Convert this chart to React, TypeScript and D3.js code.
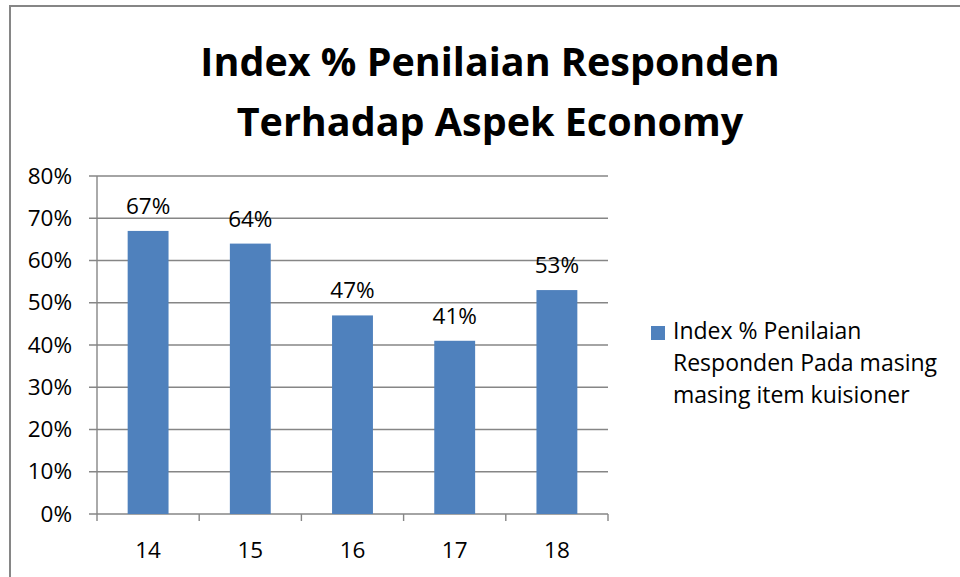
import React from "react";
import * as d3 from "d3";

const categories = ["14", "15", "16", "17", "18"];
const values = [0.67, 0.64, 0.47, 0.41, 0.53];
const yTicks = [0, 0.1, 0.2, 0.3, 0.4, 0.5, 0.6, 0.7, 0.8];
const titleLines = ["Index % Penilaian Responden", "Terhadap Aspek Economy"];
const legendLines = ["Index % Penilaian", "Responden Pada masing", "masing item kuisioner"];

const font = "'Open Sans', 'Noto Sans', sans-serif";
const barColor = "#4F81BD";
const gridColor = "#868686";

export default function App() {
  const plot = { left: 97, right: 608, top: 176, bottom: 514 };

  // bars sit in the middle 40% of each category band
  const x = d3.scaleBand().domain(categories).range([plot.left, plot.right]).paddingInner(0.6).paddingOuter(0.3);
  const xOuter = d3.scaleBand().domain(categories).range([plot.left, plot.right]);
  const y = d3.scaleLinear().domain([0, 0.8]).range([plot.bottom, plot.top]);
  const fmt = d3.format(".0%");

  return (
    <svg width={960} height={577} style={{ position: "absolute", left: 0, top: 0 }}>
      <rect x={0} y={0} width={960} height={577} fill="#fff" />
      {/* chart border, only top & left visible */}
      <path d="M10,600 V6 H1000" fill="none" stroke={gridColor} strokeWidth={2} />

      {titleLines.map((t, i) => (
        <text key={t} x={490} y={76 + i * 60} textAnchor="middle" fontFamily={font} fontWeight="bold" fontSize={39.5} fill="#000">
          {t}
        </text>
      ))}

      {yTicks.map((t) => (
        <g key={t}>
          <line x1={plot.left - 8} x2={plot.right} y1={y(t)} y2={y(t)} stroke={gridColor} strokeWidth={1.4} />
          <text x={72} y={y(t) + 7.5} textAnchor="end" fontFamily={font} fontSize={22.5} fill="#000">
            {fmt(t)}
          </text>
        </g>
      ))}

      <line x1={plot.left} x2={plot.left} y1={plot.top} y2={plot.bottom + 7} stroke={gridColor} strokeWidth={1.4} />
      {categories.map((c) => (
        <line key={c} x1={xOuter(c)! + xOuter.bandwidth()} x2={xOuter(c)! + xOuter.bandwidth()} y1={plot.bottom} y2={plot.bottom + 7} stroke={gridColor} strokeWidth={1.4} />
      ))}

      {categories.map((c, i) => (
        <g key={c}>
          <rect x={x(c)} y={y(values[i])} width={x.bandwidth()} height={plot.bottom - y(values[i])} fill={barColor} />
          <text x={x(c)! + x.bandwidth() / 2} y={y(values[i]) - 17} textAnchor="middle" fontFamily={font} fontSize={22.5} fill="#000">
            {fmt(values[i])}
          </text>
          <text x={x(c)! + x.bandwidth() / 2} y={558} textAnchor="middle" fontFamily={font} fontSize={22.5} fill="#000">
            {c}
          </text>
        </g>
      ))}

      <rect x={651} y={326} width={14} height={14} fill={barColor} />
      {legendLines.map((l, i) => (
        <text key={l} x={673} y={339 + i * 32} fontFamily={font} fontSize={23} fill="#000">
          {l}
        </text>
      ))}
    </svg>
  );
}
